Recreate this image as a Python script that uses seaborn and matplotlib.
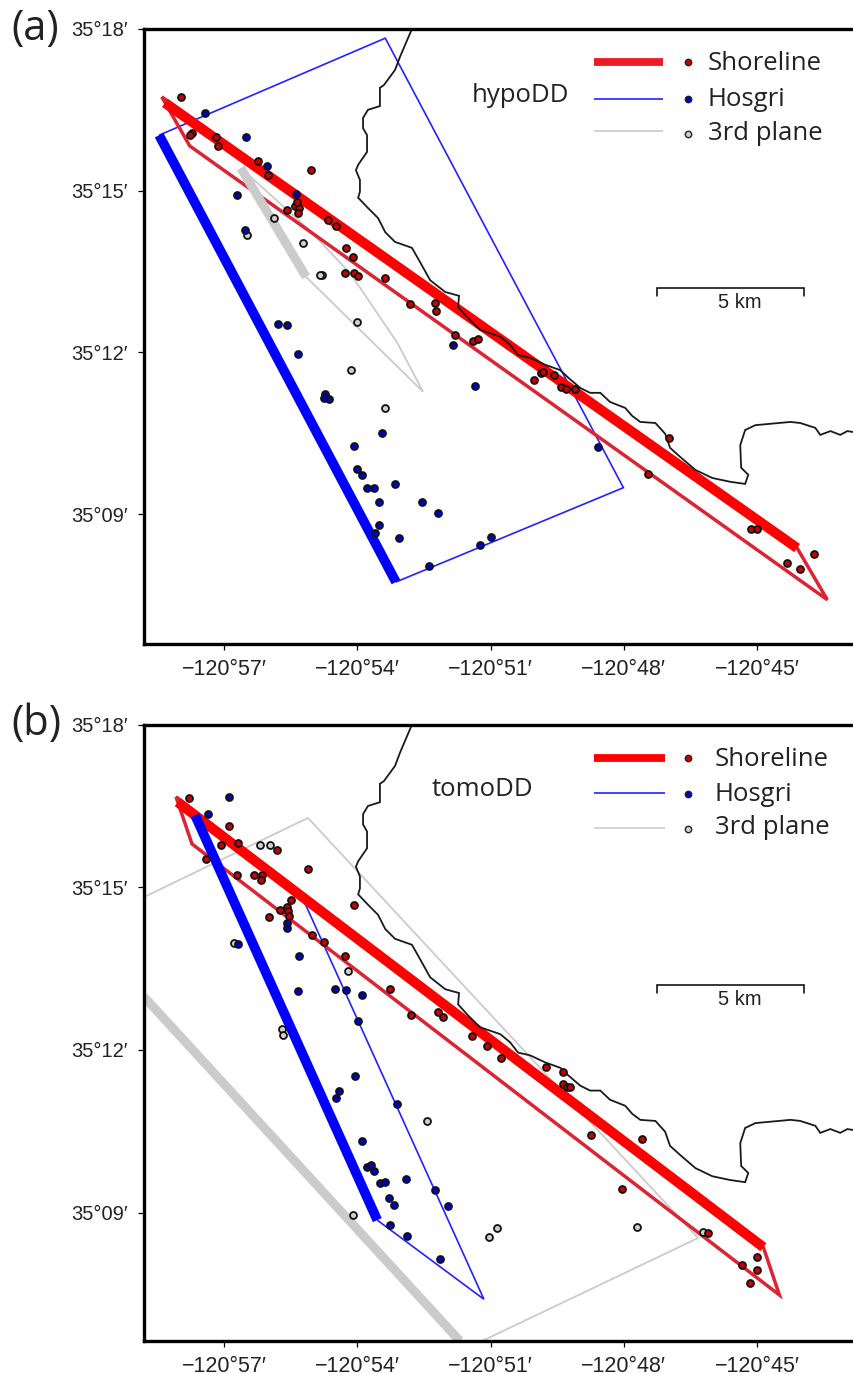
"""Shoreline, Hosgri and third-plane seismicity map, hypoDD vs tomoDD."""

import matplotlib

matplotlib.use("Agg")

import matplotlib.pyplot as plt
import seaborn as sns
from matplotlib.lines import Line2D

# all coordinates in arcminutes: lon = -120 deg + x', lat = 35 deg + y'
COAST_X = [-52.77, -53.04, -53.15, -53.40, -53.49, -53.49, -53.76, -53.87, -53.87, -53.78, -53.78, -53.98,
           -54.03, -53.94, -53.94, -53.98, -53.76, -53.53, -53.37, -53.15, -52.77, -52.59, -52.36, -52.02,
           -51.71, -51.73, -51.51, -51.24, -50.78, -50.56, -50.38, -50.11, -49.77, -49.43, -49.25, -48.98,
           -48.76, -48.53, -48.31, -47.97, -47.81, -47.63, -47.29, -47.07, -46.96, -46.73, -46.39, -46.01,
           -45.61, -45.27, -45.20, -45.36, -45.38, -45.27, -45.04, -44.25, -44.03, -43.69, -43.58, -43.35,
           -43.13, -42.97, -42.82]
COAST_Y = [18.00, 17.48, 17.24, 16.96, 16.91, 16.57, 16.50, 16.35, 16.16, 16.03, 15.72, 15.48,
           15.38, 15.20, 14.98, 14.87, 14.68, 14.49, 14.23, 14.05, 13.94, 13.68, 13.34, 13.12,
           13.05, 12.84, 12.64, 12.42, 12.29, 12.14, 11.95, 11.90, 11.77, 11.67, 11.53, 11.34,
           11.25, 11.25, 11.08, 10.97, 10.82, 10.71, 10.69, 10.49, 10.23, 10.06, 9.82, 9.67,
           9.60, 9.56, 9.73, 9.86, 10.28, 10.56, 10.65, 10.71, 10.69, 10.60, 10.47, 10.54,
           10.47, 10.54, 10.52]

# panel (a), hypoDD
A_SHORE_TRACE_X = [-58.33, -44.10]
A_SHORE_TRACE_Y = [16.63, 8.37]
A_SHORE_PLANE_X = [-58.40, -57.77, -43.42, -44.10, -58.40]
A_SHORE_PLANE_Y = [16.74, 15.83, 7.41, 8.37, 16.74]
A_HOSGRI_TRACE_X = [-58.46, -53.13]
A_HOSGRI_TRACE_Y = [16.03, 7.74]
A_HOSGRI_PLANE_X = [-58.46, -53.37, -48.01, -53.13]
A_HOSGRI_PLANE_Y = [16.03, 17.83, 9.49, 7.74]
A_THIRD_TRACE_X = [-56.62, -55.15]
A_THIRD_TRACE_Y = [15.42, 13.40]
A_THIRD_PLANE_X = [-56.62, -55.15, -52.52, -53.10, -54.16, -55.13, -56.62]
A_THIRD_PLANE_Y = [15.42, 13.40, 11.27, 12.18, 13.47, 14.31, 15.42]

A_RED_X = [-57.97, -57.72, -57.77, -57.18, -57.14, -56.23, -56.01, -55.04, -55.58, -55.40, -55.31, -55.33,
           -55.36, -54.66, -54.48, -54.25, -54.10, -54.27, -54.07, -53.98, -53.37, -52.81, -52.25, -52.23,
           -51.80, -51.39, -51.28, -49.86, -49.82, -49.57, -50.02, -49.41, -49.30, -49.10, -46.98, -47.45,
           -45.13, -45.00, -44.32, -44.03, -43.71]
A_RED_Y = [16.74, 16.07, 16.03, 16.00, 15.83, 15.55, 15.29, 15.38, 14.64, 14.72, 14.68, 14.59,
           14.79, 14.46, 14.35, 13.94, 13.77, 13.47, 13.47, 13.42, 13.38, 12.90, 12.92, 12.77,
           12.32, 12.21, 12.25, 11.62, 11.64, 11.58, 11.49, 11.36, 11.32, 11.32, 10.41, 9.75,
           8.73, 8.73, 8.09, 7.98, 8.26]
A_BLUE_X = [-57.43, -56.50, -56.03, -55.38, -56.71, -56.53, -55.78, -55.58, -55.33, -51.84, -51.35, -54.73,
            -54.75, -54.64, -53.44, -54.07, -54.01, -53.89, -53.78, -53.62, -53.15, -53.51, -52.54, -52.18,
            -53.51, -53.60, -53.06, -50.99, -51.24, -52.38, -48.58]
A_BLUE_Y = [16.44, 16.00, 15.46, 14.94, 14.92, 14.27, 12.53, 12.51, 11.97, 12.14, 11.38, 11.23,
            11.16, 11.14, 10.51, 10.27, 9.84, 9.73, 9.49, 9.49, 9.56, 9.23, 9.23, 9.02,
            8.80, 8.65, 8.56, 8.58, 8.43, 8.04, 10.25]
A_GRAY_X = [-55.87, -56.48, -55.22, -54.79, -54.84, -54.01, -54.14, -53.37]
A_GRAY_Y = [14.49, 14.18, 14.03, 13.44, 13.44, 12.57, 11.67, 10.97]

# panel (b), tomoDD
B_SHORE_TRACE_X = [-58.04, -44.86]
B_SHORE_TRACE_Y = [16.57, 8.36]
B_SHORE_PLANE_X = [-58.08, -57.72, -44.50, -44.86, -58.08]
B_SHORE_PLANE_Y = [16.67, 15.80, 7.48, 8.36, 16.67]
B_HOSGRI_TRACE_X = [-57.65, -53.55]
B_HOSGRI_TRACE_Y = [16.33, 8.86]
B_HOSGRI_PLANE_X = [-57.65, -55.18, -51.15, -53.55]
B_HOSGRI_PLANE_Y = [16.33, 14.71, 7.40, 8.86]
B_THIRD_TRACE_X = [-58.80, -51.69]
B_THIRD_TRACE_Y = [12.98, 6.63]
B_THIRD_PLANE_X = [-58.80, -55.11, -46.33, -51.19]
B_THIRD_PLANE_Y = [14.82, 16.28, 8.53, 6.63]

B_RED_X = [-57.79, -56.89, -57.07, -56.68, -55.81, -57.41, -56.71, -56.32, -56.14, -56.17, -55.11, -55.49,
           -55.58, -55.74, -55.56, -55.54, -55.99, -54.07, -55.02, -54.75, -54.27, -53.26, -52.79, -52.18,
           -52.07, -51.42, -51.08, -50.76, -49.75, -49.37, -49.37, -49.28, -49.21, -48.74, -47.59, -48.04,
           -46.10, -45.00, -45.34, -45.00, -45.15]
B_RED_Y = [16.65, 16.13, 15.78, 15.82, 15.69, 15.52, 15.23, 15.23, 15.23, 15.13, 15.34, 14.77,
           14.64, 14.58, 14.56, 14.47, 14.45, 14.67, 14.12, 13.99, 13.73, 13.12, 12.64, 12.70,
           12.61, 12.26, 12.07, 11.85, 11.69, 11.59, 11.37, 11.32, 11.32, 10.43, 10.36, 9.43,
           8.62, 8.18, 8.03, 7.94, 7.70]
B_BLUE_X = [-56.89, -57.36, -55.58, -55.58, -56.68, -55.31, -55.33, -54.50, -54.25, -53.89, -53.98, -54.05,
            -53.10, -54.41, -54.48, -53.89, -53.78, -53.69, -53.62, -53.49, -53.37, -52.90, -52.25, -51.96,
            -53.28, -53.17, -53.26, -52.88, -52.14]
B_BLUE_Y = [16.67, 16.35, 14.25, 14.34, 13.95, 13.73, 13.09, 13.12, 13.11, 13.01, 12.53, 11.52,
            11.00, 11.24, 11.11, 10.32, 9.84, 9.88, 9.77, 9.54, 9.56, 9.62, 9.42, 9.12,
            9.27, 9.14, 8.77, 8.57, 8.14]
B_GRAY_X = [-56.19, -55.96, -56.77, -54.21, -55.69, -55.67, -52.43, -54.09, -50.85, -51.03, -47.70, -46.21]
B_GRAY_Y = [15.78, 15.78, 13.97, 13.46, 12.39, 12.28, 10.69, 8.95, 8.71, 8.55, 8.73, 8.64]

LON_TICKS = [-57, -54, -51, -48, -45]
LAT_TICKS = [9, 12, 15, 18]
LON_LABELS = ["\u2212120\u00b057\u2032", "\u2212120\u00b054\u2032", "\u2212120\u00b051\u2032",
              "\u2212120\u00b048\u2032", "\u2212120\u00b045\u2032"]
LAT_LABELS = ["35\u00b009\u2032", "35\u00b012\u2032", "35\u00b015\u2032", "35\u00b018\u2032"]
KEY_LABELS = ["Shoreline", "Hosgri", "3rd plane"]

W, H = 854, 1374
RED, DARK_RED, CRIMSON = "#ff0000", "#c80000", "#dc2433"
BLUE, DARK_BLUE, GRAY = "#0000ff", "#0000c0", "#cbcbcb"

sns.set_theme(style="white")
plt.rcParams["font.family"] = ["Liberation Sans", "DejaVu Sans"]

fig = plt.figure(figsize=(W / 100, H / 100), dpi=100)


def line(ax, xs, ys, color, lw):
    sns.lineplot(x=xs, y=ys, sort=False, estimator=None, color=color, linewidth=lw, ax=ax,
                 legend=False, solid_joinstyle="miter", solid_capstyle="butt")


def dots(ax, xs, ys, color):
    sns.scatterplot(x=xs, y=ys, color=color, edgecolor="#111111", linewidth=1.3, s=25, ax=ax,
                    legend=False, zorder=5)


def px_line(xs, ys, **kw):
    fig.add_artist(Line2D([x / W for x in xs], [1 - y / H for y in ys], transform=fig.transFigure, **kw))


def px_text(x, y, text, **kw):
    fig.text(x / W, 1 - y / H, text, va="center", **kw)


def panel(top, bottom, ymin, p):
    ax = fig.add_axes([144 / W, 1 - bottom / H, 1 - 144 / W, (bottom - top) / H])
    line(ax, p["third_plane"][0], p["third_plane"][1], GRAY, 1.3)
    line(ax, p["hosgri_plane"][0], p["hosgri_plane"][1], "#2222ff", 1.2)
    line(ax, p["shore_plane"][0], p["shore_plane"][1], CRIMSON, 2.5)
    line(ax, p["third_trace"][0], p["third_trace"][1], GRAY, 6.5)
    line(ax, p["shore_trace"][0], p["shore_trace"][1], RED, 7.2)
    line(ax, p["hosgri_trace"][0], p["hosgri_trace"][1], BLUE, 7)
    line(ax, COAST_X, COAST_Y, "#1a1a1a", 1.3)
    dots(ax, p["gray"][0], p["gray"][1], "#cfcfcf")
    dots(ax, p["blue"][0], p["blue"][1], DARK_BLUE)
    dots(ax, p["red"][0], p["red"][1], DARK_RED)

    ax.set_xlim(-58.8, -42.82)
    ax.set_ylim(ymin, 18)
    ax.set_xticks(LON_TICKS, LON_LABELS)
    ax.set_yticks(LAT_TICKS, LAT_LABELS)
    ax.set_xlabel("")
    ax.set_ylabel("")
    ax.tick_params(axis="both", length=4, width=0.9, color="black", bottom=True, left=True,
                   labelcolor="#222222")
    ax.tick_params(axis="x", labelsize=15.5, pad=6.5)
    ax.tick_params(axis="y", labelsize=14.5, pad=8)
    ax.spines["right"].set_visible(False)
    for side, lw in (("left", 2.4), ("bottom", 2.4), ("top", 2.4)):
        ax.spines[side].set_linewidth(lw)
        ax.spines[side].set_color("black")
    ax.patch.set_alpha(0)
    return ax


panel(29, 644, 6.59, {
    "shore_trace": (A_SHORE_TRACE_X, A_SHORE_TRACE_Y), "shore_plane": (A_SHORE_PLANE_X, A_SHORE_PLANE_Y),
    "hosgri_trace": (A_HOSGRI_TRACE_X, A_HOSGRI_TRACE_Y), "hosgri_plane": (A_HOSGRI_PLANE_X, A_HOSGRI_PLANE_Y),
    "third_trace": (A_THIRD_TRACE_X, A_THIRD_TRACE_Y), "third_plane": (A_THIRD_PLANE_X, A_THIRD_PLANE_Y),
    "red": (A_RED_X, A_RED_Y), "blue": (A_BLUE_X, A_BLUE_Y), "gray": (A_GRAY_X, A_GRAY_Y),
})
panel(724.7, 1341, 6.63, {
    "shore_trace": (B_SHORE_TRACE_X, B_SHORE_TRACE_Y), "shore_plane": (B_SHORE_PLANE_X, B_SHORE_PLANE_Y),
    "hosgri_trace": (B_HOSGRI_TRACE_X, B_HOSGRI_TRACE_Y), "hosgri_plane": (B_HOSGRI_PLANE_X, B_HOSGRI_PLANE_Y),
    "third_trace": (B_THIRD_TRACE_X, B_THIRD_TRACE_Y), "third_plane": (B_THIRD_PLANE_X, B_THIRD_PLANE_Y),
    "red": (B_RED_X, B_RED_Y), "blue": (B_BLUE_X, B_BLUE_Y), "gray": (B_GRAY_X, B_GRAY_Y),
})


def key(line_right, text_x, line_ys, dot_ys, text_ys, red):
    styles = [(red, 5.6), ("#2222ff", 1.2), (GRAY, 1.2)]
    fills = [DARK_RED, DARK_BLUE, "#cfcfcf"]
    for i, label in enumerate(KEY_LABELS):
        px_line([594, line_right], [line_ys[i], line_ys[i]], color=styles[i][0], lw=styles[i][1],
                solid_capstyle="butt")
        px_line([688], [dot_ys[i]], marker="o", ms=4.6, mfc=fills[i], mec="#222222", mew=1.0, ls="none")
        px_text(text_x, text_ys[i], label, fontfamily="Open Sans", fontsize=18.5, color="#222222")


def scale_bar(y):
    px_line([657, 657, 804, 804], [y + 8, y, y, y + 8], color="black", lw=1.1, solid_joinstyle="miter")
    px_text(740, y + 14.5, "5 km", ha="center", fontsize=14.5, color="#222222")


key(663, 708, [62, 98.5, 131], [62, 99, 134], [64, 99, 133], "#ed1c24")
key(665, 715, [758, 793, 828], [758, 794, 829], [760, 794, 828], RED)
px_text(472, 95, "hypoDD", fontfamily="Open Sans", fontsize=18.5, color="#222222")
px_text(432, 790, "tomoDD", fontfamily="Open Sans", fontsize=18.5, color="#222222")
scale_bar(287.5)
scale_bar(985)
px_text(11, 29, "(a)", fontfamily="Open Sans", fontsize=30, color="#222222")
px_text(11, 724, "(b)", fontfamily="Open Sans", fontsize=30, color="#222222")

fig.savefig("out.png", dpi=100)
